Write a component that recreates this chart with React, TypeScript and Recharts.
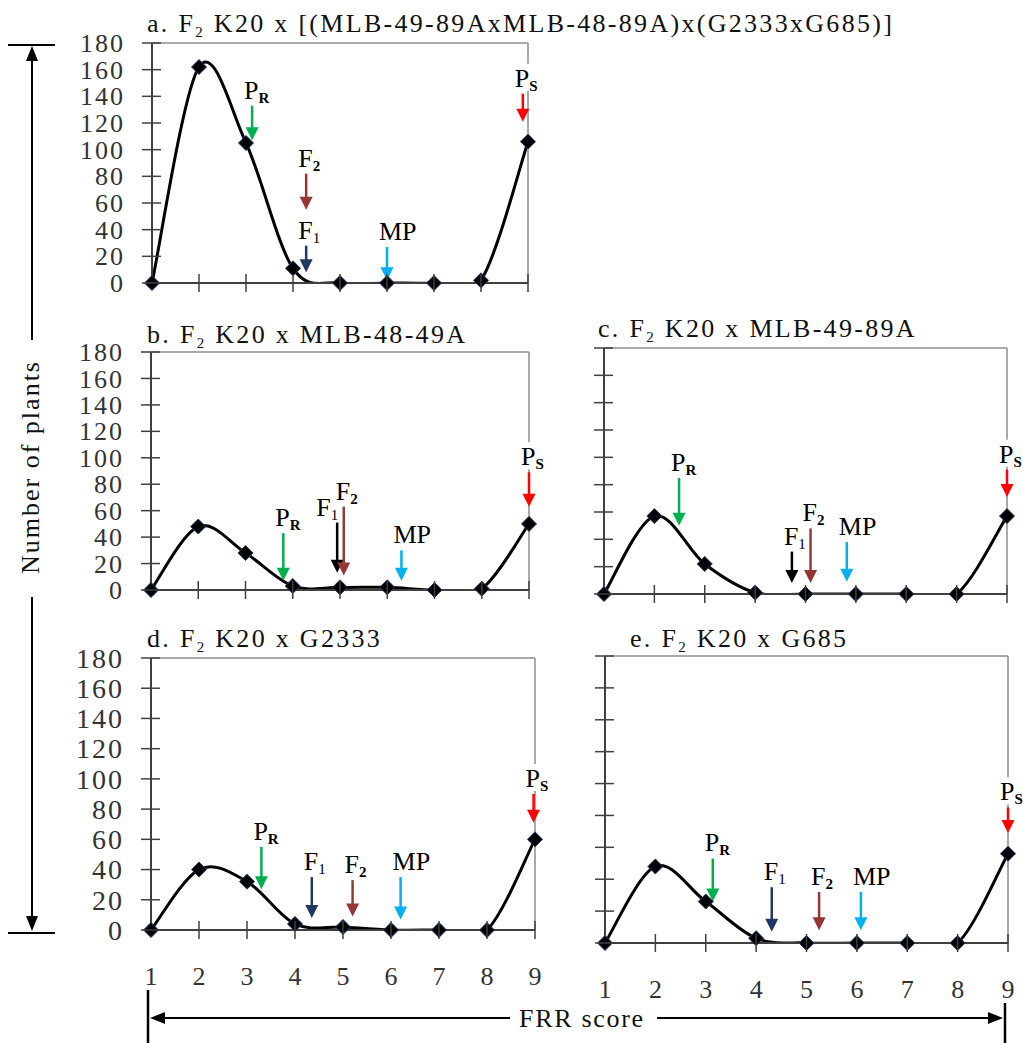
import React from "react";
import { ComposedChart, Line, XAxis, YAxis, ReferenceLine } from "recharts";

// FRR score categories and the plant counts of each F2 population
const scores = [1, 2, 3, 4, 5, 6, 7, 8, 9];
const countTicks = [0, 20, 40, 60, 80, 100, 120, 140, 160, 180];

const plantsA = [0, 162, 105, 11, 0, 0, 0, 2, 106];
const plantsB = [0, 48, 28, 3, 2, 2, 0, 1, 50];
const plantsC = [0, 57, 22, 1, 0, 0, 0, 0, 57];
const plantsD = [0, 40, 32, 4, 2, 0, 0, 0, 60];
const plantsE = [0, 48, 26, 3, 0, 0, 0, 0, 56];

// arrows marking parents / F1 / F2 / mid-parent: score, arrow top, arrow tip (plants)
const arrowsA = [
  { mark: "PR", at: 3.13, top: 133, tip: 107 },
  { mark: "F2", at: 4.28, top: 82, tip: 55 },
  { mark: "F1", at: 4.28, top: 28, tip: 8 },
  { mark: "MP", at: 6.0, top: 27, tip: 2 },
  { mark: "PS", at: 8.89, top: 142, tip: 121 },
];
const arrowsB = [
  { mark: "PR", at: 3.8, top: 43, tip: 7 },
  { mark: "F1", at: 4.94, top: 51, tip: 13 },
  { mark: "F2", at: 5.08, top: 63, tip: 11 },
  { mark: "MP", at: 6.3, top: 30, tip: 7 },
  { mark: "PS", at: 9, top: 89, tip: 63 },
];
const arrowsC = [
  { mark: "PR", at: 2.49, top: 85, tip: 50 },
  { mark: "F1", at: 4.73, top: 31, tip: 8 },
  { mark: "F2", at: 5.1, top: 48, tip: 8 },
  { mark: "MP", at: 5.82, top: 38, tip: 9 },
  { mark: "PS", at: 9, top: 91, tip: 71 },
];
const arrowsD = [
  { mark: "PR", at: 3.3, top: 55, tip: 27 },
  { mark: "F1", at: 4.35, top: 35, tip: 8 },
  { mark: "F2", at: 5.2, top: 33, tip: 9 },
  { mark: "MP", at: 6.2, top: 35, tip: 7 },
  { mark: "PS", at: 8.97, top: 90, tip: 71 },
];
const arrowsE = [
  { mark: "PR", at: 3.14, top: 53, tip: 26 },
  { mark: "F1", at: 4.31, top: 35, tip: 7 },
  { mark: "F2", at: 5.25, top: 32, tip: 8 },
  { mark: "MP", at: 6.08, top: 32, tip: 8 },
  { mark: "PS", at: 9, top: 85, tip: 69 },
];

const FONT = "Liberation Serif, serif";
const AXIS = "#404040";
const FRAME = "#8c8c8c";
const markColors: Record<string, string> = {
  PR: "#00b050",
  PS: "#ff0000",
  F1: "#1f3864",
  F2: "#953735",
  MP: "#00b0f0",
};

const Y_W = 80;
const M_TOP = 20;
const M_RIGHT = 34;
const X_H = 50;
const M_BOTTOM = 12;

// Excel-like smoothed line (Catmull-Rom through every point)
function smoothCurve(context: any) {
  let pts: number[][] = [];
  return {
    areaStart() {},
    areaEnd() {},
    lineStart() {
      pts = [];
    },
    lineEnd() {
      const n = pts.length;
      if (!n) return;
      context.moveTo(pts[0][0], pts[0][1]);
      for (let i = 0; i < n - 1; i++) {
        const p0 = pts[Math.max(0, i - 1)];
        const p1 = pts[i];
        const p2 = pts[i + 1];
        const p3 = pts[Math.min(n - 1, i + 2)];
        context.bezierCurveTo(
          p1[0] + (p2[0] - p0[0]) / 6,
          p1[1] + (p2[1] - p0[1]) / 6,
          p2[0] - (p3[0] - p1[0]) / 6,
          p2[1] - (p3[1] - p1[1]) / 6,
          p2[0],
          p2[1]
        );
      }
    },
    point(x: number, y: number) {
      pts.push([+x, +y]);
    },
  };
}

function MarkText({ mark, x, y, anchor }: any) {
  const main = mark === "MP" ? "MP" : mark[0];
  const sub = mark === "MP" ? "" : mark.slice(1);
  return (
    <text x={x} y={y} textAnchor={anchor} style={{ fontFamily: FONT }} fontSize={26} fill="#000">
      {main}
      {sub && (
        <tspan fontSize={15} fontWeight={sub === "1" ? 400 : 700} dy={4}>
          {sub}
        </tspan>
      )}
    </text>
  );
}

function Panel({ plants, arrows, box, yLabels, xLabels, labelSize, f1Color, f1Left }: any) {
  const plotW = box.right - box.left;
  const plotH = box.bottom - box.top;
  const width = Y_W + plotW + M_RIGHT;
  const height = M_TOP + plotH + X_H + M_BOTTOM;
  const axisY = M_TOP + plotH;
  const data = scores.map((s, i) => ({ score: s, plants: plants[i] }));

  const yTick = (p: any) => (
    <g>
      <line x1={Y_W - 10} x2={Y_W + 9} y1={p.y} y2={p.y} stroke={AXIS} strokeWidth={1.5} />
      {yLabels && (
        <text
          x={Y_W - 27}
          y={p.y}
          dy="0.35em"
          textAnchor="end"
          fontSize={labelSize}
          style={{ fontFamily: FONT, letterSpacing: 2 }}
          fill="#333"
        >
          {p.payload.value}
        </text>
      )}
    </g>
  );

  const xTick = (p: any) => (
    <g>
      {p.payload.value !== 1 && (
        <line x1={p.x} x2={p.x} y1={axisY - 9} y2={axisY + 9} stroke={AXIS} strokeWidth={1.5} />
      )}
      {xLabels && (
        <text
          x={p.x}
          y={axisY + 46}
          dy="0.35em"
          textAnchor="middle"
          fontSize={26}
          style={{ fontFamily: FONT }}
          fill="#333"
        >
          {p.payload.value}
        </text>
      )}
    </g>
  );

  const diamond = (p: any) => {
    if (p.cx == null || p.cy == null) return <g key={p.index} />;
    const { cx, cy } = p;
    return (
      <path
        key={p.index}
        d={`M${cx},${cy - 7.5}L${cx + 7.5},${cy}L${cx},${cy + 7.5}L${cx - 7.5},${cy}Z`}
        fill="#000"
        stroke="#1f3864"
        strokeWidth={1}
      />
    );
  };

  const arrowShape = (a: any) => (p: any) => {
    const x = p.x1;
    if (x == null) return <g />;
    const top = Math.min(p.y1, p.y2);
    const tip = Math.max(p.y1, p.y2);
    const color = a.mark === "F1" ? f1Color : markColors[a.mark];
    const left = a.mark === "F1" && f1Left;
    return (
      <g>
        {a.mark === "PS" && <rect x={x - 10} y={top - 30} width={36} height={27} fill="#fff" />}
        <line x1={x} x2={x} y1={top} y2={tip - 11} stroke={color} strokeWidth={2.5} />
        <polygon points={`${x - 6.5},${tip - 13} ${x + 6.5},${tip - 13} ${x},${tip}`} fill={color} />
        <MarkText mark={a.mark} x={left ? x + 1 : x - 8} y={top - 7} anchor={left ? "end" : "start"} />
      </g>
    );
  };

  return (
    <div style={{ position: "absolute", left: box.left - Y_W, top: box.top - M_TOP }}>
      <ComposedChart
        width={width}
        height={height}
        data={data}
        margin={{ top: M_TOP, right: M_RIGHT, bottom: M_BOTTOM, left: 0 }}
      >
        <XAxis
          type="number"
          dataKey="score"
          domain={[1, 9]}
          ticks={scores}
          interval={0}
          height={X_H}
          axisLine={{ stroke: AXIS, strokeWidth: 2 }}
          tickLine={false}
          tick={xTick}
        />
        <YAxis
          yAxisId="v"
          type="number"
          dataKey="plants"
          domain={[0, 180]}
          ticks={countTicks}
          interval={0}
          width={Y_W}
          axisLine={{ stroke: AXIS, strokeWidth: 2 }}
          tickLine={false}
          tick={yTick}
        />
        <YAxis
          yAxisId="clip"
          orientation="right"
          width={0}
          type="number"
          domain={[0, 180]}
          allowDataOverflow
          hide
        />
        <ReferenceLine yAxisId="v" y={180} stroke={FRAME} strokeWidth={1.5} />
        <ReferenceLine yAxisId="v" x={9} stroke={FRAME} strokeWidth={1.5} />
        <Line
          yAxisId="clip"
          type={smoothCurve as any}
          dataKey="plants"
          stroke="#000"
          strokeWidth={3}
          dot={false}
          activeDot={false}
          isAnimationActive={false}
        />
        <Line
          yAxisId="v"
          dataKey="plants"
          stroke="none"
          dot={diamond}
          activeDot={false}
          isAnimationActive={false}
        />
        {arrows.map((a: any, i: number) => (
          <ReferenceLine
            key={i}
            yAxisId="v"
            segment={[
              { x: a.at, y: a.top },
              { x: a.at, y: a.tip },
            ]}
            shape={arrowShape(a)}
          />
        ))}
      </ComposedChart>
    </div>
  );
}

function Title({ x, y, letter, rest }: any) {
  return (
    <text x={x} y={y} fontSize={26} fill="#111" style={{ fontFamily: FONT, letterSpacing: 2.3 }}>
      {`${letter}. F`}
      <tspan fontSize={15} dy={5}>
        2
      </tspan>
      <tspan dy={-5}>{` ${rest}`}</tspan>
    </text>
  );
}

function Frame() {
  return (
    <svg width={1023} height={1043} style={{ position: "absolute", left: 0, top: 0 }}>
      <Title x={147} y={32} letter="a" rest="K20 x [(MLB-49-89AxMLB-48-89A)x(G2333xG685)]" />
      <Title x={147} y={343} letter="b" rest="K20 x MLB-48-49A" />
      <Title x={598} y={337} letter="c" rest="K20 x MLB-49-89A" />
      <Title x={147} y={647} letter="d" rest="K20 x G2333" />
      <Title x={630} y={647} letter="e" rest="K20 x G685" />

      {/* Number of plants */}
      <line x1={8} x2={55} y1={45} y2={45} stroke="#000" strokeWidth={2} />
      <line x1={8} x2={55} y1={933} y2={933} stroke="#000" strokeWidth={2} />
      <polygon points="32,46 26,61 38,61" fill="#000" />
      <polygon points="32,931 26,916 38,916" fill="#000" />
      <line x1={32} x2={32} y1={60} y2={340} stroke="#000" strokeWidth={2} />
      <line x1={32} x2={32} y1={597} y2={918} stroke="#000" strokeWidth={2} />
      <text
        x={0}
        y={0}
        transform="translate(30,467) rotate(-90)"
        textAnchor="middle"
        dy="0.35em"
        fontSize={26}
        fill="#111"
        style={{ fontFamily: FONT, letterSpacing: 2 }}
      >
        Number of plants
      </text>

      {/* FRR score */}
      <line x1={148} x2={148} y1={990} y2={1043} stroke="#000" strokeWidth={2.5} />
      <line x1={1005} x2={1005} y1={1003} y2={1043} stroke="#000" strokeWidth={2.5} />
      <line x1={160} x2={510} y1={1018} y2={1018} stroke="#000" strokeWidth={2} />
      <line x1={657} x2={993} y1={1018} y2={1018} stroke="#000" strokeWidth={2} />
      <polygon points="150,1018 165,1012 165,1024" fill="#000" />
      <polygon points="1003,1018 988,1012 988,1024" fill="#000" />
      <text x={519} y={1027} fontSize={26} fill="#111" style={{ fontFamily: FONT, letterSpacing: 1.7 }}>
        FRR score
      </text>
    </svg>
  );
}

export default function App() {
  return (
    <div
      style={{
        position: "absolute",
        left: 0,
        top: 0,
        width: 1023,
        height: 1043,
        background: "#fff",
        overflow: "hidden",
      }}
    >
      <Frame />
      <Panel
        plants={plantsA}
        arrows={arrowsA}
        box={{ left: 152, right: 528, top: 43, bottom: 283 }}
        yLabels
        labelSize={26}
        f1Color={markColors.F1}
      />
      <Panel
        plants={plantsB}
        arrows={arrowsB}
        box={{ left: 151, right: 529, top: 352, bottom: 590 }}
        yLabels
        labelSize={26}
        f1Color="#000"
        f1Left
      />
      <Panel
        plants={plantsC}
        arrows={arrowsC}
        box={{ left: 604, right: 1007, top: 348, bottom: 594 }}
        f1Color="#000"
      />
      <Panel
        plants={plantsD}
        arrows={arrowsD}
        box={{ left: 151, right: 535, top: 658, bottom: 930 }}
        yLabels
        xLabels
        labelSize={28}
        f1Color={markColors.F1}
      />
      <Panel
        plants={plantsE}
        arrows={arrowsE}
        box={{ left: 605, right: 1008, top: 656, bottom: 943 }}
        xLabels
        f1Color={markColors.F1}
      />
    </div>
  );
}
